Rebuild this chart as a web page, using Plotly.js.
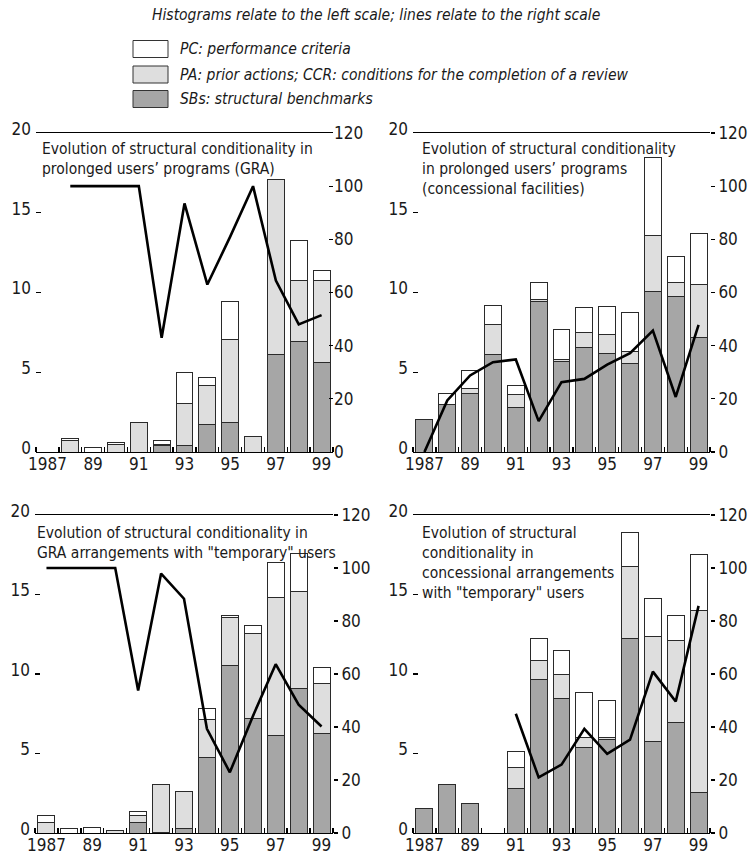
<!DOCTYPE html>
<html>
<head>
<meta charset="utf-8">
<script src="https://cdn.plot.ly/plotly-3.0.1.min.js"></script>
<style>html,body{margin:0;padding:0;background:#fff;}#chart{width:749px;height:856px;}</style>
</head>
<body>
<div id="chart"></div>
<script>
// ---------- DATA ----------
const years = [1987,1988,1989,1990,1991,1992,1993,1994,1995,1996,1997,1998,1999];
const xTickVals = [1987,1989,1991,1993,1995,1997,1999];
const xTickText = ['1987','89','91','93','95','97','99'];
const leftTicks = [0,5,10,15,20];
const rightTicks = [0,20,40,60,80,100,120];

// Panel 1: prolonged users' programs (GRA)
const p1_sb = [0,0,0,0,0,0.4,0.4,1.74,1.84,0,6.1,6.9,5.6];
const p1_pa = [0,0.75,0,0.48,1.82,0.1,2.65,2.43,5.2,1.0,11.0,3.85,5.15];
const p1_pc = [0,0.1,0.27,0.1,0,0.2,1.95,0.48,2.4,0,0,2.5,0.6];
const p1_line = [null,100,100,100,100,43,93.5,63,81,100,64.5,48,51.5];

// Panel 2: prolonged users' programs (concessional facilities)
const p2_sb = [2.05,3.0,3.67,6.1,2.76,9.42,5.68,6.58,6.16,5.54,10.04,9.73,7.2];
const p2_pa = [0,0,0.3,1.9,0.87,0.16,0.12,0.89,1.18,0.75,3.53,0.87,3.3];
const p2_pc = [0,0.65,1.15,1.2,0.52,1.06,1.86,1.6,1.81,2.47,4.89,1.66,3.21];
const p2_line = [0,19.4,28.8,33.8,34.8,11.6,26.3,27.5,32.9,37.2,45.7,20.7,47.8];

// Panel 3: GRA arrangements with "temporary" users
const p3_sb = [0,0,0,0,0.63,0.05,0.27,4.76,10.54,7.23,6.16,9.1,6.23];
const p3_pa = [0.67,0,0,0.15,0.5,3.03,2.35,2.41,3.04,5.31,8.68,6.06,3.2];
const p3_pc = [0.42,0.27,0.36,0,0.25,0,0,0.65,0.1,0.48,2.2,2.45,1.01];
const p3_line = [100,100,100,100,53.8,97.9,88.4,39.3,22.9,44,63.7,48.4,40.2];

// Panel 4: concessional arrangements with "temporary" users
const p4_sb = [1.51,3.08,1.84,0,2.83,9.64,8.49,5.35,5.87,12.26,5.77,6.92,2.52];
const p4_pa = [0,0,0,0,1.26,1.22,1.51,0.63,0.15,4.47,6.56,5.16,11.48];
const p4_pc = [0,0,0,0,1.04,1.36,1.49,2.83,2.3,2.14,2.45,1.63,3.5];
const p4_line = [null,null,null,null,45,21,25.8,39.3,29.9,35.2,60.9,49.6,85.7];

const panelTitles = [
  'Evolution of structural conditionality in<br>prolonged users\u2019 programs (GRA)',
  'Evolution of structural conditionality<br>in prolonged users\u2019 programs<br>(concessional facilities)',
  'Evolution of structural conditionality in<br>GRA arrangements with "temporary" users',
  'Evolution of structural<br>conditionality in<br>concessional arrangements<br>with "temporary" users'
];
const headerText = 'Histograms relate to the left scale; lines relate to the right scale';
const legendLabels = ['PC: performance criteria','PA: prior actions; CCR: conditions for the completion of a review','SBs: structural benchmarks'];

// ---------- STYLE ----------
const FONT = '"Liberation Sans Narrow", "DejaVu Sans Condensed", "Arial Narrow", sans-serif';
const C_SB = '#a6a6a6', C_PA = '#dedede', C_PC = '#ffffff', C_EDGE = '#2a2a2a';
const W = 749, H = 856;
const px = v => v / W;
const py = v => 1 - v / H;
const TICK = 17;

const panels = [
  {sb:p1_sb, pa:p1_pa, pc:p1_pc, line:p1_line, x:[36,333], y:[133,452], rt:'inside', tx:40, ty:138},
  {sb:p2_sb, pa:p2_pa, pc:p2_pc, line:p2_line, x:[413,710], y:[133,452], rt:'outside', tx:420, ty:138},
  {sb:p3_sb, pa:p3_pa, pc:p3_pc, line:p3_line, x:[35,333], y:[515,833], rt:'outside', tx:35, ty:522},
  {sb:p4_sb, pa:p4_pa, pc:p4_pc, line:p4_line, x:[413,710], y:[515,833], rt:'outside', tx:420, ty:522}
];

const traces = [];
const layout = {
  width: W, height: H,
  margin: {l:0, r:0, t:0, b:0},
  paper_bgcolor: '#fff', plot_bgcolor: 'rgba(0,0,0,0)',
  barmode: 'stack', bargap: 0.26,
  showlegend: false,
  font: {family: FONT, color: '#1a1a1a'},
  annotations: [], shapes: []
};

panels.forEach((p, i) => {
  const n = i + 1;
  const xa = 'x' + (n === 1 ? '' : n);
  const yl = 'y' + (n === 1 ? '' : n);
  const yr = 'y' + (n + 4);
  const mk = (vals, col) => ({
    type:'bar', x: years, y: vals, xaxis: xa, yaxis: yl,
    marker: {color: col, line: {color: C_EDGE, width: 1}},
    hoverinfo: 'skip'
  });
  traces.push(mk(p.sb, C_SB), mk(p.pa, C_PA), mk(p.pc, C_PC));
  traces.push({type:'scatter', mode:'lines', x: years, y: p.line, xaxis: xa, yaxis: yr,
    line: {color:'#000', width: 2.6}, connectgaps: false, hoverinfo:'skip'});

  layout['xaxis' + (n === 1 ? '' : n)] = {
    domain: [px(p.x[0]), px(p.x[1])], anchor: yl,
    range: [1986.5, 1999.5], fixedrange: true,
    tickmode: 'array', tickvals: xTickVals, ticktext: xTickText, ticks: '',
    tickfont: {size: TICK, family: FONT, color:'#1a1a1a'}, ticklabelstandoff: -4,
    showline: true, mirror: true, linecolor: '#000', linewidth: 1.3,
    showgrid: false, zeroline: false,
    minor: {tick0: 1986.5, dtick: 1, ticks: 'inside', ticklen: 5, tickwidth: 1.3, tickcolor: '#000', showgrid: false}
  };
  layout['yaxis' + (n === 1 ? '' : n)] = {
    domain: [py(p.y[1]), py(p.y[0])], anchor: xa,
    range: [0, 20], fixedrange: true,
    tickmode: 'array', tickvals: leftTicks,
    ticks: 'inside', ticklen: 5, tickwidth: 1.2, tickcolor: '#000',
    tickfont: {size: TICK, family: FONT, color:'#1a1a1a'}, ticklabelstandoff: 4, ticklabelshift: -4,
    showline: false, showgrid: false, zeroline: false
  };
  layout['yaxis' + (n + 4)] = {
    overlaying: yl, side: 'right', anchor: xa,
    range: [0, 120], fixedrange: true,
    tickmode: 'array', tickvals: rightTicks,
    ticks: p.rt, ticklen: 4, tickwidth: 1.2, tickcolor: '#000',
    tickfont: {size: TICK, family: FONT, color:'#1a1a1a'},
    showline: false, showgrid: false, zeroline: false
  };
  layout.annotations.push({
    xref:'paper', yref:'paper', x: px(p.tx), y: py(p.ty), xanchor:'left', yanchor:'top',
    align:'left', showarrow:false, text: panelTitles[i],
    font: {size: 15.5, family: FONT, color:'#1a1a1a'}
  });
});

// header
layout.annotations.push({
  xref:'paper', yref:'paper', x: px(376), y: py(15), xanchor:'center', yanchor:'middle',
  showarrow:false, text: '<i>' + headerText + '</i>', font:{size:15.5, family: FONT, color:'#1a1a1a'}
});
// legend
const legendColors = [C_PC, C_PA, C_SB];
const legendY = [49, 74.5, 99];
legendY.forEach((cy, k) => {
  layout.shapes.push({type:'rect', xref:'paper', yref:'paper',
    x0: px(133), x1: px(168), y0: py(cy - 8.5), y1: py(cy + 8.5),
    fillcolor: legendColors[k], line:{color:'#333', width:1}});
  layout.annotations.push({xref:'paper', yref:'paper', x: px(178), y: py(cy),
    xanchor:'left', yanchor:'middle', showarrow:false,
    text: '<i>' + legendLabels[k] + '</i>', font:{size:15.5, family: FONT, color:'#1a1a1a'}});
});

Plotly.newPlot('chart', traces, layout, {staticPlot: true, displayModeBar: false});
</script>
</body>
</html>
